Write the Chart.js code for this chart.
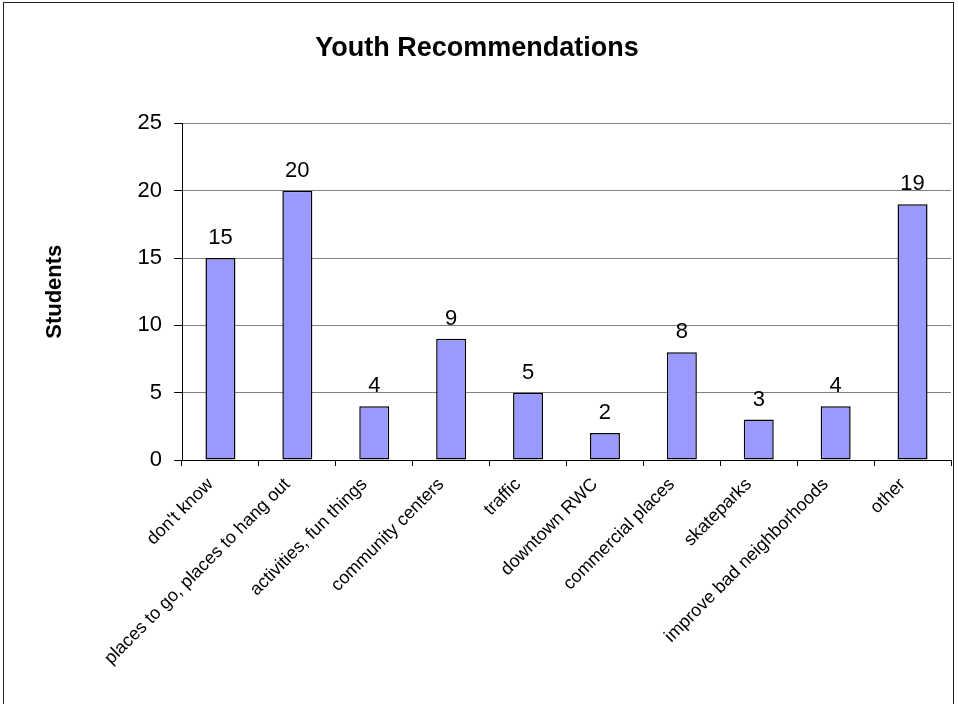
<!DOCTYPE html>
<html>
<head>
<meta charset="utf-8">
<title>Youth Recommendations</title>
<script src="https://cdn.jsdelivr.net/npm/chart.js@4/dist/chart.umd.min.js"></script>
<style>
    html, body { margin: 0; padding: 0; background: #fff; }
    .wrap { position: relative; width: 958px; height: 704px; overflow: hidden; }
    .frame { position: absolute; left: 3px; top: 2px; width: 951px; height: 760px; border: 1px solid #222; box-sizing: border-box; pointer-events: none; }
    canvas { position: absolute; left: 0; top: 0; }
</style>
</head>
<body>
<div class="wrap">
    <canvas id="chart" width="958" height="704"></canvas>
    <div class="frame"></div>
</div>
<script>
// ——— DATA ———
const categories = [
    "don't know",
    'places to go, places to hang out',
    'activities, fun things',
    'community centers',
    'traffic',
    'downtown RWC',
    'commercial places',
    'skateparks',
    'improve bad neighborhoods',
    'other'
];
const students = [15, 20, 4, 9, 5, 2, 8, 3, 4, 19];
const yTicks = [0, 5, 10, 15, 20, 25];

const FONT = "'Liberation Sans', Arial, sans-serif";

// ——— VALUE LABELS ABOVE BARS ———
const valueLabels = {
    id: 'valueLabels',
    afterDatasetsDraw(chart) {
        const c = chart.ctx;
        const meta = chart.getDatasetMeta(0);
        c.save();
        c.font = `22px ${FONT}`;
        c.fillStyle = '#000';
        c.textAlign = 'center';
        c.textBaseline = 'alphabetic';
        meta.data.forEach((bar, i) => {
            c.fillText(String(students[i]), bar.x, bar.y - 14);
        });
        c.restore();
    }
};

// ——— CHART ———
const ctx = document.getElementById('chart').getContext('2d');
new Chart(ctx, {
    type: 'bar',
    data: {
        labels: categories,
        datasets: [{
            data: students,
            backgroundColor: '#9999FF',
            borderColor: '#000',
            borderWidth: 1.5,
            borderSkipped: false,
            categoryPercentage: 1,
            barPercentage: 0.39
        }]
    },
    options: {
        responsive: false,
        animation: false,
        layout: { padding: { left: 3, right: 7, top: 0, bottom: 0 } },
        plugins: {
            legend: { display: false },
            tooltip: { enabled: false },
            title: {
                display: true,
                text: 'Youth Recommendations',
                color: '#000',
                font: { family: FONT, size: 27, weight: 'bold' },
                padding: { top: 32, bottom: 59 }
            }
        },
        scales: {
            x: {
                grid: { offset: true, drawOnChartArea: false, color: '#000', tickLength: 6 },
                border: { color: '#000', width: 1 },
                ticks: {
                    color: '#000',
                    font: { family: FONT, size: 18 },
                    minRotation: 45,
                    maxRotation: 45,
                    autoSkip: false,
                    padding: 8,
                    labelOffset: -10
                },
                afterFit: s => { s.height = 244; }
            },
            y: {
                min: 0,
                max: 25,
                afterBuildTicks: s => { s.ticks = yTicks.map(v => ({ value: v })); },
                grid: { color: '#808080', tickColor: '#000', tickLength: 8 },
                border: { color: '#000', width: 1 },
                ticks: { color: '#000', font: { family: FONT, size: 22 }, padding: 12 },
                title: {
                    display: true,
                    text: 'Students',
                    color: '#000',
                    font: { family: FONT, size: 22, weight: 'bold' },
                    padding: { top: 39, bottom: 0 }
                },
                afterFit: s => { s.width = 179; }
            }
        }
    },
    plugins: [valueLabels]
});
</script>
</body>
</html>
